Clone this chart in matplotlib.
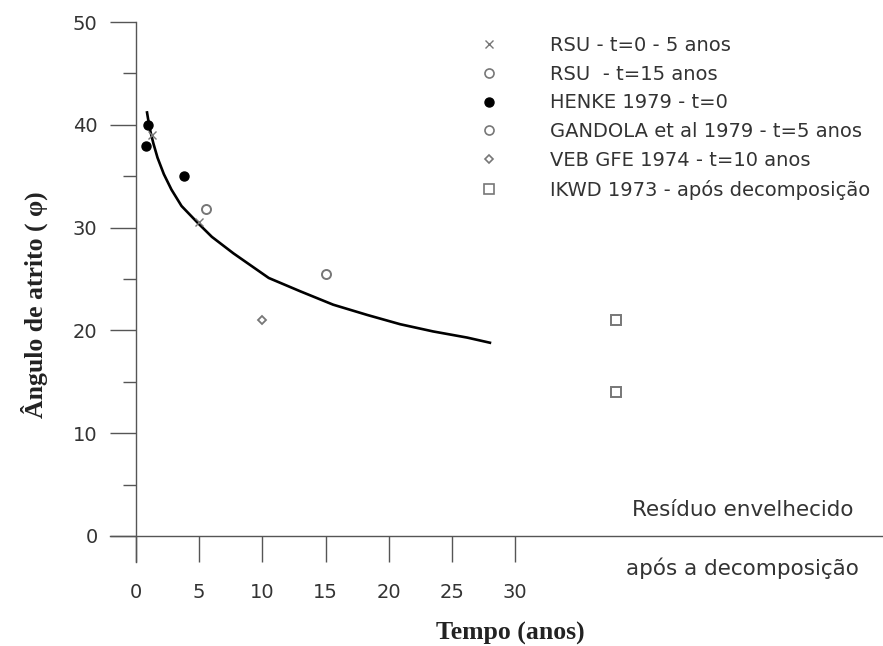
import matplotlib
matplotlib.use("Agg")
import matplotlib.pyplot as plt
from matplotlib.lines import Line2D

# dados
curva_x = [0.87, 0.95, 1.15, 1.37, 1.7, 2.2, 2.8, 3.6, 4.93, 6.0, 7.7, 10.5, 13.0, 15.6, 18.3, 20.9, 23.5, 26.2, 28.0]
curva_y = [41.2, 40.6, 39.3, 38.2, 36.8, 35.2, 33.7, 32.1, 30.4, 29.1, 27.5, 25.1, 23.8, 22.5, 21.5, 20.6, 19.9, 19.3, 18.8]

rsu_0_5_x = [1.3, 5.0]
rsu_0_5_y = [39.0, 30.5]
rsu_15_x = [15.0]
rsu_15_y = [25.5]
henke_x = [0.95, 0.8, 3.8]
henke_y = [40.0, 37.9, 35.0]
gandola_x = [5.5]
gandola_y = [31.8]
veb_x = [10.0]
veb_y = [21.0]
ikwd_x = [38.0, 38.0]
ikwd_y = [21.0, 14.0]

rotulos = ["RSU - t=0 - 5 anos", "RSU  - t=15 anos", "HENKE 1979 - t=0",
           "GANDOLA et al 1979 - t=5 anos", "VEB GFE 1974 - t=10 anos",
           "IKWD 1973 - após decomposição"]

cinza = "#777777"
eixo = "#555555"
texto = "#333333"

plt.rcParams["font.family"] = ["DejaVu Sans"]

fig = plt.figure(figsize=(8.83, 6.46), dpi=100)
ax = fig.add_axes([110 / 883, 84 / 646, 773 / 883, 540 / 646])

ax.plot(curva_x, curva_y, color="black", lw=1.9, zorder=3)
ax.plot(rsu_0_5_x, rsu_0_5_y, "x", color=cinza, ms=6, mew=1.0, zorder=4)
ax.plot(rsu_15_x, rsu_15_y, "o", mfc="white", mec=cinza, ms=6.5, mew=1.4, zorder=4)
ax.plot(henke_x, henke_y, "o", color="black", ms=6.5, zorder=4)
ax.plot(gandola_x, gandola_y, "o", mfc="white", mec=cinza, ms=6.5, mew=1.4, zorder=4)
ax.plot(veb_x, veb_y, "D", mfc="white", mec=cinza, ms=4.5, mew=1.3, zorder=4)
ax.plot(ikwd_x, ikwd_y, "s", mfc="white", mec=cinza, ms=6.5, mew=1.4, zorder=4)

ax.set_xlim(-2.06, 59.1)
ax.set_ylim(-2.53, 50)

for s in ["top", "right"]:
    ax.spines[s].set_visible(False)
ax.spines["left"].set_position(("data", 0))
ax.spines["bottom"].set_position(("data", 0))
for s in ["left", "bottom"]:
    ax.spines[s].set_color(eixo)
    ax.spines[s].set_linewidth(1.0)

ax.set_xticks([0, 5, 10, 15, 20, 25, 30])
ax.set_yticks([0, 10, 20, 30, 40, 50])
ax.set_yticks([5, 15, 25, 35, 45], minor=True)
ax.tick_params(axis="x", direction="out", length=18.7, width=1.0, color=eixo,
               labelsize=14, labelcolor=texto, pad=15)
ax.tick_params(axis="y", which="major", direction="out", length=18.7, width=1.0,
               color=eixo, labelsize=14, labelcolor=texto, pad=9)
ax.tick_params(axis="y", which="minor", direction="out", length=9.4, width=1.0, color=eixo)

# legenda
handles = [
    Line2D([], [], ls="none", marker="x", color=cinza, ms=6, mew=1.0),
    Line2D([], [], ls="none", marker="o", mfc="white", mec=cinza, ms=6.5, mew=1.2),
    Line2D([], [], ls="none", marker="o", color="black", ms=6.5),
    Line2D([], [], ls="none", marker="o", mfc="white", mec=cinza, ms=6.5, mew=1.2),
    Line2D([], [], ls="none", marker="D", mfc="white", mec=cinza, ms=4.5, mew=1.2),
    Line2D([], [], ls="none", marker="s", mfc="white", mec=cinza, ms=6.5, mew=1.2),
]
leg = ax.legend(handles, rotulos, loc="upper left",
                bbox_to_anchor=(468 / 883, 1 - 36 / 646), bbox_transform=fig.transFigure,
                frameon=False, fontsize=14, handlelength=2.2, handletextpad=2.0,
                labelspacing=0.5, borderpad=0, borderaxespad=0)
for t in leg.get_texts():
    t.set_color(texto)

ax.text(48.0, 2.5, "Resíduo envelhecido", ha="center", va="center",
        fontsize=15.5, color=texto)
ax.text(48.0, -3.1, "após a decomposição", ha="center", va="center",
        fontsize=15.5, color=texto)

fig.text(510 / 883, 1 - 633 / 646, "Tempo (anos)", ha="center", va="center",
         fontsize=18.5, fontweight="bold", family=["Liberation Serif", "DejaVu Sans"],
         color="#222222")
fig.text(34 / 883, 1 - 305 / 646, "Ângulo de atrito ( φ)", ha="center", va="center",
         rotation=90, fontsize=18.5, fontweight="bold",
         family=["Liberation Serif", "DejaVu Sans"], color="#222222")

fig.savefig("out.png", dpi=100)
